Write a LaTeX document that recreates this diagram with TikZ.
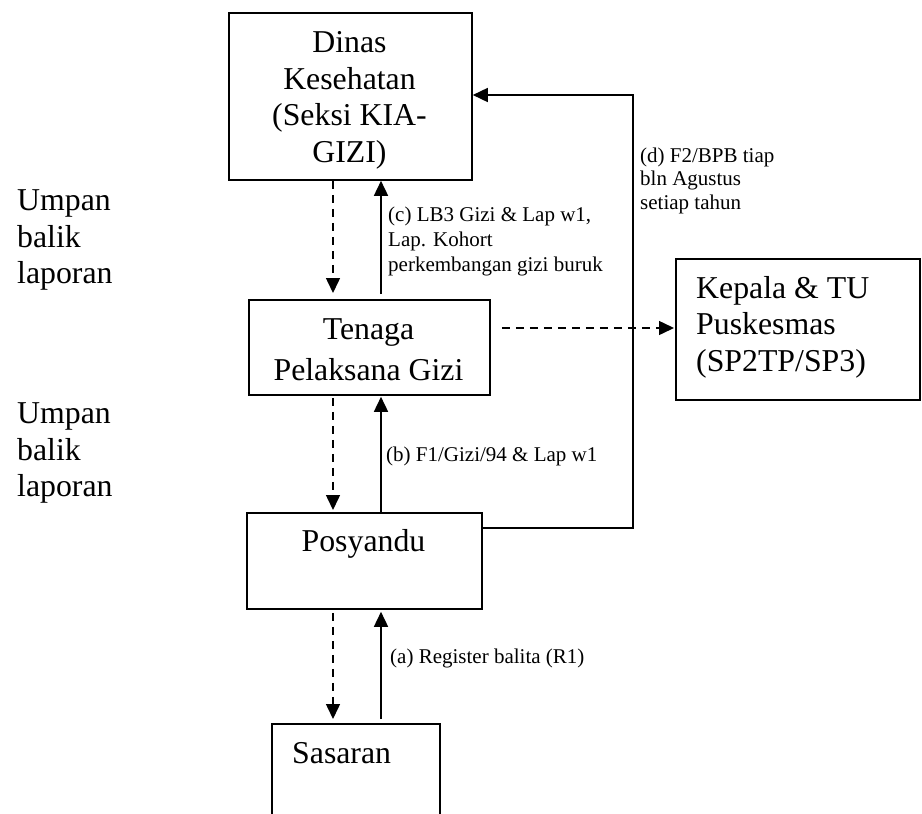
\documentclass[tikz,border=0pt]{standalone}
\usepackage{fontspec}
\setmainfont{Liberation Serif}
\usetikzlibrary{arrows.meta}

% stacked lines whose reference point is the first baseline
\newcommand\stackc[1]{\begin{tabular}[t]{@{}c@{}}#1\end{tabular}}
\newcommand\stackl[1]{\begin{tabular}[t]{@{}l@{}}#1\end{tabular}}

\begin{document}
\begin{tikzpicture}[x=1pt,y=-1pt,
  box/.style={draw, line width=1.8pt, rectangle, inner sep=0pt, anchor=north west},
  bigtext/.style={inner sep=0pt, font=\fontsize{31.8}{36.7}\selectfont},
  smalltext/.style={inner sep=0pt, anchor=base west, font=\fontsize{21}{25}\selectfont},
  tip/.style={-{Triangle[length=15pt,width=14pt]}},
  report/.style={tip, line width=1.6pt},
  feedback/.style={tip, line width=1.5pt, dash pattern=on 8pt off 6pt}
]
\useasboundingbox (0,0) rectangle (922,814);
\fill[white] (0,0) rectangle (922,814);
\clip (0,0) rectangle (922,814);

% boxes
\node[box, minimum width=243pt, minimum height=167pt] (dinas)    at (228,12)  {};
\node[box, minimum width=241pt, minimum height=95pt]  (tenaga)   at (248,299) {};
\node[box, minimum width=244pt, minimum height=141pt] (kepala)   at (675,258) {};
\node[box, minimum width=235pt, minimum height=96pt]  (posyandu) at (246,512) {};
\node[box, minimum width=168pt, minimum height=120pt] (sasaran)  at (271,723) {};

% box texts
\node[bigtext, anchor=base] (dinas-t) at (349.5,52.3)
  {\stackc{Dinas\\Kesehatan\\(Seksi KIA-\\GIZI)}};
\node[bigtext, anchor=base] (tenaga-t) at (368.5,339)
  {\stackc{Tenaga\\[5pt]Pelaksana Gizi}};
\node[bigtext, anchor=base west] (kepala-t) at (696,298)
  {\stackl{Kepala \& TU\\Puskesmas\\(SP2TP/SP3)}};
\node[bigtext, anchor=base] (posyandu-t) at (363.5,551.7) {Posyandu};
\node[bigtext, anchor=base west] (sasaran-t) at (292,763.3) {Sasaran};

% side notes
\node[bigtext, anchor=base west] (umpan1) at (17,210.5) {\stackl{Umpan\\balik\\laporan}};
\node[bigtext, anchor=base west] (umpan2) at (17,423.5) {\stackl{Umpan\\balik\\laporan}};

% connector labels
\node[smalltext] (lab-c) at (388,221)
  {\stackl{(c) LB3 Gizi \& Lap w1,\\Lap. Kohort\\perkembangan gizi buruk}};
\node[smalltext, font=\fontsize{21}{23.7}\selectfont] (lab-d) at (640,162)
  {\stackl{(d) F2/BPB tiap\\bln Agustus\\setiap tahun}};
\node[smalltext] (lab-b) at (386,461) {(b) F1/Gizi/94 \& Lap w1};
\node[smalltext] (lab-a) at (390,663.5) {(a) Register balita (R1)};

% connector guide coordinates
\coordinate (xd) at (333,0);
\coordinate (xs) at (381,0);
\coordinate (yk) at (0,328);
\coordinate (bend1) at (633,528);
\coordinate (bend2) at (633,95);

% feedback (dashed) going down
\draw[feedback, shorten >=6pt] (dinas.south -| xd) -- (tenaga.north -| xd);
\draw[feedback, shorten <=2pt, shorten >=2pt] (tenaga.south -| xd) -- (posyandu.north -| xd);
\draw[feedback, shorten <=3pt, shorten >=4pt] (posyandu.south -| xd) -- (sasaran.north -| xd);
\draw[feedback, shorten <=11pt, shorten >=1pt] (tenaga.east |- yk) -- (kepala.west |- yk);

% reports going up
\draw[report, shorten <=5pt] (tenaga.north -| xs) -- (dinas.south -| xs);
\draw[report, shorten >=1pt] (posyandu.north -| xs) -- (tenaga.south -| xs);
\draw[report, shorten <=4pt, shorten >=2pt] (sasaran.north -| xs) -- (posyandu.south -| xs);
\draw[report] (posyandu.east |- bend1) -- (bend1) -- (bend2) -- (dinas.east |- bend2);
\end{tikzpicture}
\end{document}
